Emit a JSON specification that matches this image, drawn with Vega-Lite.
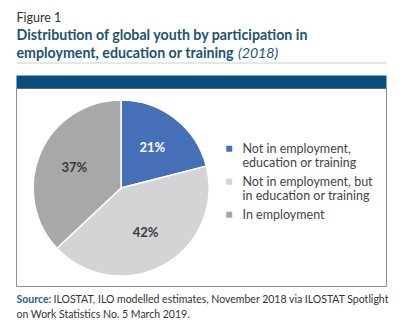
{
  "$schema": "https://vega.github.io/schema/vega-lite/v6.json",
  "width": 370,
  "height": 198,
  "autosize": {"type": "none"},
  "padding": {"left": 16, "top": 88, "right": 14, "bottom": 41},
  "background": "white",
  "config": {"view": {"stroke": "#8e8e8e", "strokeWidth": 1}, "font": "Lato"},
  "data": {"values": [
    {"category": "Not in employment, education or training", "share": 0.21},
    {"category": "Not in employment, but in education or training", "share": 0.42},
    {"category": "In employment", "share": 0.37}
  ]},
  "layer": [
    {
      "mark": {"type": "arc", "outerRadius": 88, "stroke": "white", "strokeWidth": 1.5, "x": {"expr": "width*0.284"}, "y": {"expr": "height*0.505"}},
      "encoding": {
        "theta": {"field": "share", "type": "quantitative", "stack": true},
        "order": {"field": "category", "sort": "descending"},
        "color": {
          "field": "category", "type": "nominal",
          "scale": {
            "domain": ["Not in employment, education or training", "Not in employment, but in education or training", "In employment"],
            "range": ["#4570b7", "#d4d4d6", "#a7a8aa"]
          },
          "legend": {
            "orient": "none", "legendX": 207, "legendY": 54.5, "title": null, "padding": 0,
            "symbolType": "square", "symbolSize": 36, "symbolStrokeWidth": 0,
            "labelFont": "Lato", "labelFontSize": 12.5, "labelColor": "#444", "labelOffset": 7,
            "labelLineHeight": 15, "rowPadding": 5, "labelLimit": 200,
            "labelExpr": "datum.label == 'Not in employment, education or training' ? ['Not in employment,', 'education or training'] : datum.label == 'Not in employment, but in education or training' ? ['Not in employment, but', 'in education or training'] : datum.label"
          }
        }
      }
    },
    {
      "mark": {"type": "text", "radius": 51, "font": "Lato", "fontWeight": "bold", "fontSize": 13, "x": {"expr": "width*0.284"}, "y": {"expr": "height*0.505"}},
      "encoding": {
        "theta": {"field": "share", "type": "quantitative", "stack": true},
        "order": {"field": "category", "sort": "descending"},
        "detail": {"field": "category", "type": "nominal"},
        "text": {"field": "share", "type": "quantitative", "format": ".0%"},
        "color": {"condition": {"test": "datum.category === 'Not in employment, education or training'", "value": "white"}, "value": "#3a3a3a"}
      }
    },
    {
      "mark": {"type": "point", "opacity": 0},
      "encoding": {
        "x": {"field": "share", "type": "quantitative", "axis": {
          "orient": "top", "offset": 6.5, "domain": true, "domainColor": "#084d7c", "domainWidth": 13, "domainCap": "butt",
          "ticks": false, "labels": false, "grid": false,
          "title": "Figure 1", "titleFont": "Lato", "titleFontSize": 12.5, "titleFontWeight": "normal", "titleColor": "#333",
          "titleX": 0, "titleY": -60, "titleAlign": "left", "titleBaseline": "alphabetic", "titleAngle": 0
        }},
        "y": {"field": "share", "type": "quantitative", "axis": {
          "orient": "left", "domain": false, "ticks": false, "labels": false, "grid": false,
          "title": "Source:", "titleFont": "Lato", "titleFontSize": 10.5, "titleFontWeight": "bold", "titleColor": "#1f5f9a",
          "titleX": 0, "titleY": 214, "titleAlign": "left", "titleBaseline": "alphabetic", "titleAngle": 0
        }}
      }
    },
    {
      "mark": {"type": "point", "opacity": 0},
      "encoding": {
        "x": {"field": "share", "type": "quantitative", "axis": {
          "orient": "bottom", "domain": false, "ticks": false, "labels": false, "grid": false,
          "title": "ILOSTAT, ILO modelled estimates, November 2018 via ILOSTAT Spotlight", "titleFont": "Lato", "titleFontSize": 10.5, "titleFontWeight": "normal", "titleColor": "#333",
          "titleX": 37, "titleY": 16, "titleAlign": "left", "titleBaseline": "alphabetic", "titleAngle": 0
        }},
        "y": {"field": "share", "type": "quantitative", "axis": {
          "orient": "left", "domain": false, "ticks": false, "labels": false, "grid": false,
          "title": "on Work Statistics No. 5 March 2019.", "titleFont": "Lato", "titleFontSize": 10.5, "titleFontWeight": "normal", "titleColor": "#333",
          "titleX": 0, "titleY": 229, "titleAlign": "left", "titleBaseline": "alphabetic", "titleAngle": 0
        }}
      }
    },
    {
      "mark": {"type": "point", "opacity": 0},
      "encoding": {
        "x": {"field": "share", "type": "quantitative", "axis": {
          "orient": "top", "offset": 25.5, "domain": true, "domainColor": "#c3cfd6", "domainWidth": 1,
          "ticks": false, "labels": false, "grid": false,
          "title": ["Distribution of global youth by participation in", "employment, education or training"],
          "titleFont": "Lato", "titleFontSize": 14.2, "titleFontWeight": "bold", "titleColor": "#1d5470",
          "titleX": 0, "titleY": -23.5, "titleAlign": "left", "titleBaseline": "alphabetic", "titleAngle": 0, "titleLineHeight": 18.3
        }},
        "y": {"field": "share", "type": "quantitative", "axis": {
          "orient": "left", "domain": false, "ticks": false, "labels": false, "grid": false,
          "title": "(2018)", "titleFont": "Lato", "titleFontSize": 14.2, "titleFontWeight": "normal", "titleFontStyle": "italic", "titleColor": "#1d5470",
          "titleX": 221.5, "titleY": -30.7, "titleAlign": "left", "titleBaseline": "alphabetic", "titleAngle": 0
        }}
      }
    }
  ],
  "resolve": {"scale": {"x": "independent", "y": "independent"}, "axis": {"x": "independent", "y": "independent"}}
}
